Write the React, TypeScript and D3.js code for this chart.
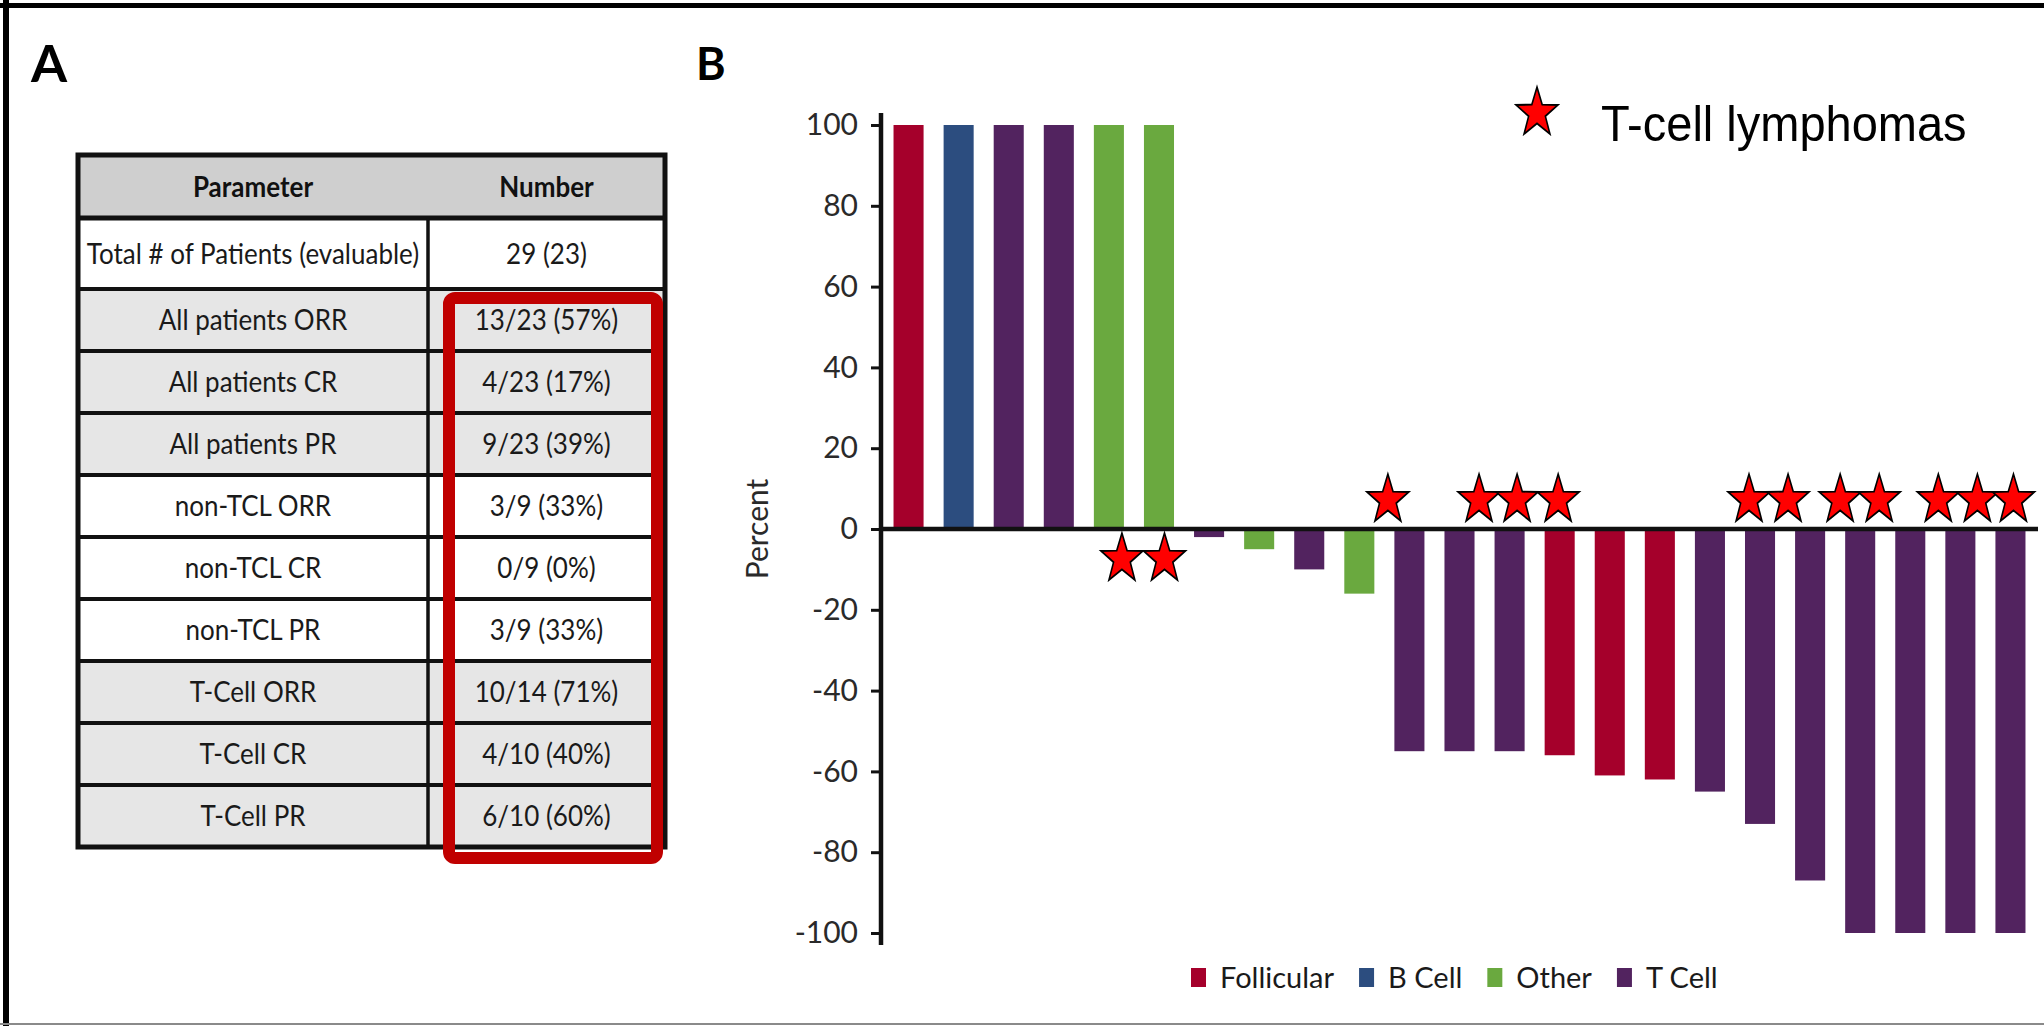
import * as d3 from "d3";
import React, { useEffect, useRef } from "react";

// waterfall values (percent change), one per patient
const barValues = [100, 100, 100, 100, 100, 100, -2, -5, -10, -16, -55, -55, -55, -56, -61, -62, -65, -73, -87, -100, -100, -100, -100];
const barTypes = [
  "Follicular", "B Cell", "T Cell", "T Cell", "Other", "Other", "T Cell", "Other", "T Cell", "Other",
  "T Cell", "T Cell", "T Cell", "Follicular", "Follicular", "Follicular", "T Cell", "T Cell", "T Cell",
  "T Cell", "T Cell", "T Cell", "T Cell",
];
const legendTypes = ["Follicular", "B Cell", "Other", "T Cell"];
const typeColors = ["#a5002b", "#2c4d7f", "#6aa93f", "#52235f"];
const yTicks = [100, 80, 60, 40, 20, 0, -20, -40, -60, -80, -100];

// star markers, in bar-index units (hand placed in the original)
const starsAbove = [9.57, 11.39, 12.15, 12.97, 16.78, 17.56, 18.6, 19.38, 20.56, 21.34, 22.06];
const starsBelow = [4.26, 5.11];

// table (panel A)
const tableHeader = ["Parameter", "Number"];
const tableParams = [
  "Total # of Patients (evaluable)", "All patients ORR", "All patients CR", "All patients PR",
  "non-TCL ORR", "non-TCL CR", "non-TCL PR", "T-Cell ORR", "T-Cell CR", "T-Cell PR",
];
const tableNumbers = [
  "29 (23)", "13/23 (57%)", "4/23 (17%)", "9/23 (39%)", "3/9 (33%)", "0/9 (0%)", "3/9 (33%)",
  "10/14 (71%)", "4/10 (40%)", "6/10 (60%)",
];
const tableGroups = ["total", "all", "all", "all", "non", "non", "non", "tcell", "tcell", "tcell"];

const W = 2044;
const H = 1026;
const FONT = "Lato, 'Open Sans', sans-serif";

function starPath(R: number, ratio: number) {
  const pts: [number, number][] = [];
  for (let i = 0; i < 10; i++) {
    const r = i % 2 === 0 ? R : R * ratio;
    const a = -Math.PI / 2 + (i * Math.PI) / 5;
    pts.push([r * Math.cos(a), r * Math.sin(a)]);
  }
  return d3.line()(pts) + "Z";
}

const App = () => {
  const svgRef = useRef<SVGSVGElement>(null);

  useEffect(() => {
    const svg = d3.select(svgRef.current);
    svg.selectAll("*").remove();

    svg.append("rect").attr("width", W).attr("height", H).attr("fill", "#fff");

    // frame
    svg.append("line").attr("x1", 0).attr("x2", W).attr("y1", 5.5).attr("y2", 5.5)
      .attr("stroke", "#000").attr("stroke-width", 5);
    svg.append("line").attr("x1", 6).attr("x2", 6).attr("y1", 0).attr("y2", H)
      .attr("stroke", "#000").attr("stroke-width", 6);
    svg.append("line").attr("x1", 0).attr("x2", W).attr("y1", 1024).attr("y2", 1024)
      .attr("stroke", "#8a8a8a").attr("stroke-width", 2);

    // panel letters
    svg.append("text").attr("x", 31).attr("y", 82).text("A")
      .style("font-family", FONT).style("font-weight", 700).style("font-size", "52px");
    svg.append("text").attr("x", 696).attr("y", 80).text("B")
      .style("font-family", FONT).style("font-weight", 700).style("font-size", "45px");

    // ---------- Panel A: table ----------
    const tLeft = 78, tRight = 665, tDiv = 428, tTop = 155, headH = 63, firstH = 71, tBottom = 847;
    const restRows = d3.scaleBand<number>()
      .domain(d3.range(1, tableParams.length))
      .range([tTop + headH + firstH, tBottom]);
    const rowTop = (i: number) => (i === 0 ? tTop + headH : restRows(i)!);
    const rowH = (i: number) => (i === 0 ? firstH : restRows.bandwidth());
    const groupFill = (g: string) => (g === "total" || g === "non" ? "#ffffff" : "#e6e6e6");
    const table = svg.append("g");

    table.append("rect").attr("x", tLeft).attr("y", tTop).attr("width", tRight - tLeft)
      .attr("height", headH).attr("fill", "#cfcfcf");
    table.selectAll(".row").data(tableGroups).enter().append("rect")
      .attr("x", tLeft).attr("y", (d, i) => rowTop(i))
      .attr("width", tRight - tLeft).attr("height", (d, i) => rowH(i))
      .attr("fill", d => groupFill(d));

    // grid lines
    table.selectAll(".hline").data(d3.range(1, tableParams.length)).enter().append("line")
      .attr("x1", tLeft).attr("x2", tRight)
      .attr("y1", d => rowTop(d)).attr("y2", d => rowTop(d))
      .attr("stroke", "#111").attr("stroke-width", 4);
    table.append("line").attr("x1", tLeft).attr("x2", tRight)
      .attr("y1", tTop + headH).attr("y2", tTop + headH)
      .attr("stroke", "#111").attr("stroke-width", 5);
    table.append("line").attr("x1", tDiv).attr("x2", tDiv)
      .attr("y1", tTop + headH).attr("y2", tBottom)
      .attr("stroke", "#111").attr("stroke-width", 3.5);
    table.append("rect").attr("x", tLeft).attr("y", tTop).attr("width", tRight - tLeft)
      .attr("height", tBottom - tTop).attr("fill", "none").attr("stroke", "#111").attr("stroke-width", 5);

    const c1 = (tLeft + tDiv) / 2, c2 = (tDiv + tRight) / 2;
    const cellText = (sel: any, cx: number, cy: (i: number) => number) =>
      sel.attr("transform", (d: string, i: number) => `translate(${cx},${cy(i)}) scale(1,1.12)`)
        .attr("text-anchor", "middle").text((d: string) => d)
        .style("font-family", FONT).style("font-size", "26px").style("fill", "#1a1a1a");

    table.selectAll(".head").data(tableHeader).enter().append("text")
      .attr("transform", (d, i) => `translate(${i === 0 ? c1 : c2},${tTop + headH / 2 + 10}) scale(1,1.12)`)
      .attr("text-anchor", "middle").text(d => d)
      .style("font-family", FONT).style("font-weight", 700).style("font-size", "26px").style("fill", "#111");
    cellText(table.selectAll(".param").data(tableParams).enter().append("text"), c1,
      i => rowTop(i) + rowH(i) / 2 + 10);
    cellText(table.selectAll(".num").data(tableNumbers).enter().append("text"), c2,
      i => rowTop(i) + rowH(i) / 2 + 10);

    // red highlight box
    table.append("rect").attr("x", 449).attr("y", 298).attr("width", 208).attr("height", 560)
      .attr("rx", 6).attr("fill", "none").attr("stroke", "#c00000").attr("stroke-width", 12);

    // ---------- Panel B: waterfall ----------
    const axisX = 881;
    const x = d3.scaleBand<number>()
      .domain(d3.range(barValues.length))
      .range([axisX, 2038])
      .paddingInner(0.4)
      .paddingOuter(0.25);
    const y = d3.scaleLinear().domain([-100, 100]).range([933, 125]);
    const colorOf = d3.scaleOrdinal<string, string>().domain(legendTypes).range(typeColors);
    const chart = svg.append("g");

    chart.selectAll(".bar").data(barValues).enter().append("rect")
      .attr("x", (d, i) => x(i)!)
      .attr("y", d => y(Math.max(0, d)))
      .attr("width", x.bandwidth())
      .attr("height", d => Math.abs(y(d) - y(0)))
      .attr("fill", (d, i) => colorOf(barTypes[i]));

    // y axis
    const yAxis = chart.append("g").attr("transform", `translate(${axisX},0)`)
      .call(d3.axisLeft(y).tickValues(yTicks).tickFormat(d => String(d))
        .tickSize(10).tickPadding(13).tickSizeOuter(0));
    yAxis.select(".domain").remove();
    yAxis.selectAll(".tick line").attr("stroke", "#111").attr("stroke-width", 3);
    yAxis.selectAll(".tick text")
      .attr("transform", "scale(1,1.1)")
      .style("font-family", FONT).style("font-size", "30px").style("fill", "#2a2a2a");
    yAxis.selectAll(".tick text").attr("transform", null);
    chart.append("line").attr("x1", axisX).attr("x2", axisX)
      .attr("y1", y(103)).attr("y2", y(-103)).attr("stroke", "#111").attr("stroke-width", 4.5);

    // zero line
    chart.append("line").attr("x1", axisX).attr("x2", 2038)
      .attr("y1", y(0)).attr("y2", y(0)).attr("stroke", "#111").attr("stroke-width", 4.5);

    chart.append("text")
      .attr("transform", `translate(757,${y(0)}) rotate(-90)`)
      .attr("text-anchor", "middle").attr("dy", "0.35em").text("Percent")
      .style("font-family", FONT).style("font-size", "30px").style("fill", "#2a2a2a");

    // stars
    const slot = d3.scaleLinear()
      .domain([0, barValues.length - 1])
      .range([x(0)! + x.bandwidth() / 2, x(barValues.length - 1)! + x.bandwidth() / 2]);
    const star = starPath(22, 0.4);
    const drawStar = (cx: number, cy: number) =>
      chart.append("path").attr("d", star)
        .attr("transform", `translate(${cx},${cy}) scale(1,1.18)`)
        .attr("fill", "#ff0000").attr("stroke", "#000").attr("stroke-width", 1.6);
    starsAbove.forEach(s => drawStar(slot(s), y(0) - 29));
    starsBelow.forEach(s => drawStar(slot(s), y(0) + 30));

    // top legend
    drawStar(1537, 113);
    chart.append("text").attr("transform", "translate(1601,141) scale(1,1.06)").text("T-cell lymphomas")
      .style("font-family", "'Liberation Sans', Arial, sans-serif").style("font-size", "47px").style("fill", "#000");

    // bottom legend
    let lx = 1191;
    legendTypes.forEach((t, i) => {
      chart.append("rect").attr("x", lx).attr("y", 968).attr("width", 15).attr("height", 19)
        .attr("fill", typeColors[i]);
      const txt = chart.append("text").attr("x", lx + 29).attr("y", 988).text(t)
        .style("font-family", FONT).style("font-size", "29px").style("fill", "#1a1a1a");
      const w = (txt.node() as SVGTextElement).getComputedTextLength();
      lx = lx + 29 + w + 25;
    });
  }, []);

  return (
    <svg ref={svgRef} width={W} height={H}
      style={{ position: "absolute", left: 0, top: 0, display: "block" }} />
  );
};

export default App;
